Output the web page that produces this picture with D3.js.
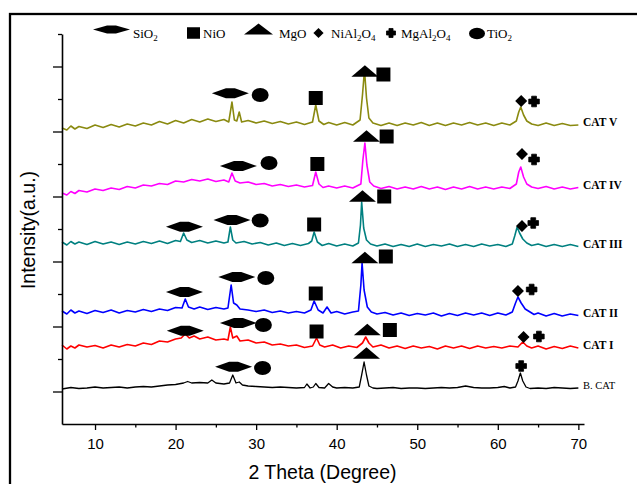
<!DOCTYPE html>
<html>
<head>
<meta charset="utf-8">
<script src="https://cdn.jsdelivr.net/npm/d3@7/dist/d3.min.js"></script>
<style>
  body { margin: 0; background: #fff; }
  svg { display: block; }
</style>
</head>
<body>
<svg id="chart"></svg>
<script>
// x axis ticks (2 theta, degree)
const xMajor = [10, 20, 30, 40, 50, 60, 70];
const xMinor = [15, 25, 35, 45, 55, 65];

// intensity (a.u.), [2theta, counts]
const catV = [[5.9,2960],[6.5,2940],[7,2980],[7.5,2950],[8,2975],[9,2955],[10,2990],[11,2965],[12,2995],[13,2970],[14,3000],[15,2980],[16,3010],[17,2990],[18,3025],[19,3000],[20,3035],[21,3010],[22,3045],[23,3020],[24,3050],[25,3025],[26,3045],[26.6,3020],[27.0,3220],[27.3,3040],[27.6,3030],[27.9,3120],[28.2,3020],[29,3035],[30,3010],[31,3030],[32,3005],[33,3025],[34,3000],[35,3020],[36,2995],[37,3020],[37.4,3190],[37.8,3030],[38.4,2995],[39,3015],[40,2990],[41,3015],[42,2990],[42.9,3040],[43.2,3290],[43.45,3540],[43.7,3260],[44,3060],[44.5,3010],[45.5,2985],[46.5,3010],[47.5,2985],[48.5,3010],[49.5,2990],[50.5,3015],[51.5,2985],[52.5,3010],[53.5,2985],[54.5,3010],[55.5,2990],[56.5,3015],[57.5,2990],[58.5,3010],[59.5,2985],[60.5,3010],[61.5,2990],[62.3,3030],[62.6,3120],[62.85,3170],[63.2,3090],[63.6,3030],[64.2,3000],[65,2985],[66,3010],[67,2985],[68,3005],[69,2985],[70,2990]];

const catIV = [[5.9,2310],[6.5,2290],[7,2325],[7.5,2305],[8,2335],[9,2320],[10,2350],[11,2335],[12,2360],[13,2345],[14,2375],[15,2360],[16,2390],[17,2380],[18,2405],[19,2395],[20,2430],[21,2420],[22,2445],[23,2430],[24,2450],[25,2425],[26,2440],[26.6,2420],[27.0,2510],[27.4,2430],[28,2410],[29,2420],[30,2395],[31,2405],[32,2380],[33,2395],[34,2375],[35,2390],[36,2370],[37,2385],[37.4,2520],[37.8,2400],[38.3,2365],[39,2380],[40,2360],[41,2380],[42,2360],[43.0,2400],[43.25,2640],[43.5,2810],[43.75,2590],[44.1,2420],[44.6,2380],[45.5,2355],[46.5,2375],[47.5,2350],[48.5,2370],[49.5,2350],[50.5,2375],[51.5,2350],[52.5,2370],[53.5,2345],[54.5,2370],[55.5,2350],[56.5,2375],[57.5,2350],[58.5,2370],[59.5,2350],[60.5,2370],[61.5,2355],[62.3,2400],[62.6,2520],[62.85,2570],[63.2,2470],[63.6,2400],[64.2,2370],[65,2355],[66,2375],[67,2350],[68,2370],[69,2350],[70,2365]];

const catIII = [[5.9,1820],[6.5,1790],[7,1825],[7.5,1800],[8,1820],[9,1795],[10,1825],[11,1800],[12,1820],[13,1795],[14,1820],[15,1800],[16,1825],[17,1805],[18,1830],[19,1805],[20,1835],[20.6,1825],[21.0,1910],[21.4,1840],[22,1815],[23,1835],[24,1810],[25,1830],[26,1810],[26.5,1820],[26.8,1970],[27.1,1840],[27.5,1810],[28.5,1825],[29.5,1800],[30.5,1815],[31.5,1790],[32.5,1810],[33.5,1785],[34.5,1805],[35.5,1785],[36.5,1805],[36.9,1830],[37.2,1920],[37.6,1820],[38.2,1785],[39,1805],[40,1780],[41,1800],[42,1780],[42.7,1810],[42.95,1990],[43.1,2220],[43.35,1960],[43.7,1840],[44.2,1800],[45,1780],[46,1800],[47,1775],[48,1795],[49,1775],[50,1800],[51,1775],[52,1795],[53,1780],[54,1800],[55,1775],[56,1795],[57,1775],[58,1800],[59,1780],[60,1795],[61,1775],[61.8,1800],[62.1,1880],[62.4,1970],[62.7,1910],[63.1,1850],[63.6,1810],[64.2,1785],[65,1800],[66,1775],[67,1795],[68,1775],[69,1795],[70,1775]];

const catII = [[5.9,1130],[6.5,1100],[7,1140],[7.5,1110],[8,1130],[9,1105],[10,1135],[11,1115],[12,1140],[13,1110],[14,1135],[15,1120],[16,1145],[17,1125],[18,1150],[19,1135],[20,1165],[20.8,1160],[21.2,1250],[21.6,1170],[22.3,1150],[23,1170],[24,1145],[25,1165],[26,1150],[26.5,1160],[26.9,1390],[27.2,1210],[27.6,1190],[28,1150],[29,1140],[30,1125],[31,1140],[32,1115],[33,1130],[34,1110],[35,1125],[36,1110],[36.8,1140],[37.2,1230],[37.7,1140],[38.3,1110],[38.8,1170],[39.3,1110],[40,1125],[41,1100],[42,1120],[42.7,1130],[43.0,1390],[43.15,1610],[43.4,1340],[43.8,1170],[44.3,1120],[45,1100],[46,1115],[47,1090],[48,1110],[49,1085],[50,1105],[51,1090],[52,1110],[53,1080],[54,1105],[55,1085],[56,1110],[57,1090],[58,1110],[59,1085],[60,1110],[61,1090],[61.8,1120],[62.2,1210],[62.5,1270],[62.9,1210],[63.4,1150],[64,1120],[64.5,1095],[65,1110],[66,1080],[67,1105],[68,1080],[69,1100],[70,1085]];

const catI = [[5.9,790],[6.5,750],[7,780],[7.5,760],[8,790],[9,770],[10,785],[11,760],[12,790],[13,770],[14,795],[15,780],[16,810],[17,795],[18,830],[19,820],[20,850],[20.7,860],[21.2,900],[21.7,860],[22.3,880],[23,850],[24,870],[25,840],[26,850],[26.5,840],[26.8,970],[27.1,860],[27.6,880],[28,830],[29,840],[30,810],[31,820],[32,790],[33,800],[34,780],[35,790],[36,765],[37,780],[37.5,860],[37.9,790],[38.5,770],[39.5,790],[40.5,760],[41.5,780],[42.5,765],[43.2,810],[43.6,870],[44,810],[44.5,770],[45.5,790],[46.5,760],[47.5,780],[48.5,755],[49.5,780],[50.5,760],[51.5,775],[52.5,750],[53.5,780],[54.5,760],[55.5,780],[56.5,755],[57.5,780],[58.5,760],[59.5,775],[60.5,760],[61.5,780],[62.5,770],[63.1,820],[63.6,780],[64.2,760],[65,780],[66,750],[67,775],[68,755],[69,780],[70,760]];

const bCat = [[5.9,350],[7,365],[8,355],[9,360],[10,370],[11,360],[12,365],[13,370],[14,360],[15,370],[16,375],[17,370],[18,380],[19,390],[20,395],[21,410],[21.5,425],[22,410],[23,415],[24,410],[24.5,440],[25,410],[26,400],[26.7,410],[27.1,490],[27.5,410],[27.9,420],[28.3,390],[29,380],[30,375],[31,370],[32,365],[33,370],[34,365],[35,360],[36,365],[36.3,400],[36.7,360],[37.1,370],[37.4,405],[37.8,365],[38.5,360],[39,405],[39.5,370],[40,360],[41,365],[42,360],[42.8,370],[43.1,490],[43.4,620],[43.7,490],[44,380],[44.5,360],[45,355],[46,360],[47,365],[48,355],[49,360],[50,360],[51,355],[52,360],[53,365],[54,360],[55,365],[56,380],[57,365],[58,360],[59,360],[60,365],[60.8,375],[61.5,360],[62.2,370],[62.5,430],[62.8,510],[63.1,430],[63.5,370],[64,355],[65,360],[66,355],[67,365],[68,360],[69,355],[70,360]];

const seriesNames = ["CAT V", "CAT IV", "CAT III", "CAT II", "CAT I", "B. CAT"];
const seriesValues = [catV, catIV, catIII, catII, catI, bCat];
const seriesColors = ["#8a8a10", "#ff00ff", "#008080", "#0000ff", "#ff0000", "#000000"];

// phase markers above the peaks: [series, phase, 2theta, counts]
const markers = [
  ["CAT V","SiO2",26.8,3307],["CAT V","TiO2",30.5,3290],["CAT V","NiO",37.4,3260],["CAT V","MgO",43.5,3530],["CAT V","NiO",45.8,3495],["CAT V","NiAl2O4",62.9,3230],["CAT V","MgAl2O4",64.5,3225],
  ["CAT IV","SiO2",27.8,2580],["CAT IV","TiO2",31.6,2610],["CAT IV","NiO",37.6,2600],["CAT IV","MgO",43.7,2880],["CAT IV","NiO",46.2,2875],["CAT IV","NiAl2O4",63.0,2700],["CAT IV","MgAl2O4",64.5,2645],
  ["CAT III","SiO2",21.1,1973],["CAT III","SiO2",27.0,2040],["CAT III","TiO2",30.5,2035],["CAT III","NiO",37.2,1995],["CAT III","MgO",43.2,2280],["CAT III","NiO",45.9,2275],["CAT III","NiAl2O4",63.0,1980],["CAT III","MgAl2O4",64.4,2010],
  ["CAT II","SiO2",21.1,1320],["CAT II","SiO2",27.6,1470],["CAT II","TiO2",31.2,1460],["CAT II","NiO",37.4,1305],["CAT II","MgO",43.5,1665],["CAT II","NiO",46.1,1675],["CAT II","NiAl2O4",62.5,1330],["CAT II","MgAl2O4",64.2,1345],
  ["CAT I","SiO2",21.2,933],["CAT I","SiO2",27.8,1010],["CAT I","TiO2",30.9,990],["CAT I","NiO",37.5,925],["CAT I","MgO",43.8,945],["CAT I","NiO",46.6,940],["CAT I","NiAl2O4",63.2,870],["CAT I","MgAl2O4",65.1,875],
  ["B. CAT","SiO2",27.2,573],["B. CAT","TiO2",30.8,560],["B. CAT","MgO",43.7,710],["B. CAT","MgAl2O4",62.9,580]
];

// legend: phase key and label pieces (true = subscript)
const legendPhases = ["SiO2", "NiO", "MgO", "NiAl2O4", "MgAl2O4", "TiO2"];
const legendLabels = [
  [["SiO", false], ["2", true]],
  [["NiO", false]],
  [["MgO", false]],
  [["NiAl", false], ["2", true], ["O", false], ["4", true]],
  [["MgAl", false], ["2", true], ["O", false], ["4", true]],
  [["TiO", false], ["2", true]]
];

const width = 637, height = 484;
const svg = d3.select("#chart").attr("width", width).attr("height", height);

svg.append("rect").attr("width", width).attr("height", height).attr("fill", "#fff");

// outer frame (runs past the right / bottom edge in the original)
svg.append("rect")
  .attr("x", 10).attr("y", 14)
  .attr("width", 700).attr("height", 600)
  .attr("fill", "none").attr("stroke", "#000").attr("stroke-width", 2.3);

const x = d3.scaleLinear().domain([5.9, 70.7]).range([62, 584]);
const y = d3.scaleLinear().domain([0, 3900]).range([424, 34]);

// y ticks, every 325 counts, alternating long / short
const yTicks = d3.range(1, 13).map(i => i * 325);

// traces
const line = d3.line().x(d => x(d[0])).y(d => y(d[1]));
seriesValues.forEach((vals, i) => {
  svg.append("path")
    .datum(vals)
    .attr("fill", "none")
    .attr("stroke", seriesColors[i])
    .attr("stroke-width", i === 5 ? 1.3 : 1.6)
    .attr("stroke-linejoin", "round")
    .attr("d", line);
});

// series labels at right end
seriesNames.forEach((name, i) => {
  const last = seriesValues[i][seriesValues[i].length - 1];
  svg.append("text")
    .attr("x", 583)
    .attr("y", y(last[1]) - 1.5)
    .attr("dominant-baseline", "middle")
    .attr("font-family", "'Liberation Serif', 'Times New Roman', serif")
    .attr("font-size", name === "B. CAT" ? "10.5px" : "11.5px")
    .attr("font-weight", name === "B. CAT" ? "normal" : "bold")
    .attr("fill", "#000")
    .text(name);
});

// marker shapes
function drawSymbol(g, phase, cx, cy, small) {
  const k = small ? 0.85 : 1;
  if (phase === "SiO2") {
    const w = 37, h = small ? 8 : 10;
    g.append("path")
      .attr("d", `M${cx - w / 2},${cy} L${cx - w * 0.12},${cy - h / 2} L${cx + w * 0.12},${cy - h / 2} L${cx + w / 2},${cy} L${cx + w * 0.12},${cy + h / 2} L${cx - w * 0.12},${cy + h / 2} Z`)
      .attr("fill", "#000");
  } else if (phase === "NiO") {
    const w = small ? 13 : 14, h = small ? 11.5 : 14;
    g.append("rect").attr("x", cx - w / 2).attr("y", cy - h / 2)
      .attr("width", w).attr("height", h).attr("fill", "#000");
  } else if (phase === "MgO") {
    const w = small ? 29 : 27, h = small ? 11 : 11.5;
    g.append("path")
      .attr("d", `M${cx},${cy - h / 2} L${cx + w / 2},${cy + h / 2} L${cx - w / 2},${cy + h / 2} Z`)
      .attr("fill", "#000");
  } else if (phase === "NiAl2O4") {
    const s = 12 * k;
    g.append("path")
      .attr("d", `M${cx},${cy - s / 2} L${cx + s / 2},${cy} L${cx},${cy + s / 2} L${cx - s / 2},${cy} Z`)
      .attr("fill", "#000");
  } else if (phase === "MgAl2O4") {
    const s = 5.3 * k, a = 2.4 * k;
    g.append("path")
      .attr("d", `M${cx - a},${cy - s} H${cx + a} V${cy - a} H${cx + s} V${cy + a} H${cx + a} V${cy + s} H${cx - a} V${cy + a} H${cx - s} V${cy - a} H${cx - a} Z`)
      .attr("fill", "#000").attr("stroke", "#000").attr("stroke-width", 0.8).attr("stroke-linejoin", "round");
  } else if (phase === "TiO2") {
    g.append("ellipse").attr("cx", cx).attr("cy", cy)
      .attr("rx", small ? 8 : 8.5).attr("ry", small ? 5.8 : 7).attr("fill", "#000");
  }
}

const gm = svg.append("g");
markers.forEach(m => drawSymbol(gm, m[1], x(m[2]), y(m[3]), false));

// legend
const legendSymX = [111.5, 193.5, 258.5, 318.5, 391, 477];
const legendSymY = [29.5, 33, 29, 33, 33, 33.5];
const legendTextX = [133, 203, 279, 331, 401, 487];
const gl = svg.append("g");
legendPhases.forEach((p, i) => {
  drawSymbol(gl, p, legendSymX[i], legendSymY[i], true);
  const t = gl.append("text")
    .attr("x", legendTextX[i]).attr("y", 38)
    .attr("font-family", "'Liberation Serif', 'Times New Roman', serif")
    .attr("font-size", "13px").attr("fill", "#000");
  let sub = false;
  legendLabels[i].forEach(([txt, isSub]) => {
    const ts = t.append("tspan").text(txt);
    if (isSub && !sub) ts.attr("dy", 3).attr("font-size", "9px");
    else if (isSub) ts.attr("font-size", "9px");
    else if (!isSub && sub) ts.attr("dy", -3);
    sub = isSub;
  });
});

// x axis
const axisFont = "'Liberation Sans', Arial, sans-serif";
const gx = svg.append("g").attr("transform", "translate(0,424)");
gx.call(d3.axisBottom(x).tickValues(xMajor).tickSize(6).tickPadding(8).tickSizeOuter(0).tickFormat(d3.format("d")));
gx.append("g").call(d3.axisBottom(x).tickValues(xMinor).tickSize(3.5).tickFormat(""))
  .select(".domain").remove();
gx.selectAll(".domain").attr("stroke", "#000").attr("stroke-width", 1.6);
gx.selectAll(".tick line").attr("stroke", "#000").attr("stroke-width", 1.3);
gx.selectAll(".tick text").attr("font-family", axisFont).attr("font-size", "15px").attr("fill", "#000");

// y axis
const gy = svg.append("g").attr("transform", "translate(62,0)");
gy.call(d3.axisLeft(y).tickValues(yTicks.filter((d, i) => i % 2 === 0)).tickSize(9).tickSizeOuter(0).tickFormat(""));
gy.append("g").call(d3.axisLeft(y).tickValues(yTicks.filter((d, i) => i % 2 === 1)).tickSize(4).tickFormat(""))
  .select(".domain").remove();
gy.selectAll(".domain").attr("stroke", "#000").attr("stroke-width", 1.6);
gy.selectAll(".tick line").attr("stroke", "#000").attr("stroke-width", 1.3);

// axis titles
svg.append("text")
  .attr("x", 322.5).attr("y", 479)
  .attr("text-anchor", "middle")
  .attr("font-family", axisFont).attr("font-size", "19.5px").attr("fill", "#000")
  .text("2 Theta (Degree)");

svg.append("text")
  .attr("transform", "translate(35,230) rotate(-90)")
  .attr("text-anchor", "middle")
  .attr("font-family", axisFont).attr("font-size", "19.5px").attr("fill", "#000")
  .text("Intensity(a.u.)");
</script>
</body>
</html>
